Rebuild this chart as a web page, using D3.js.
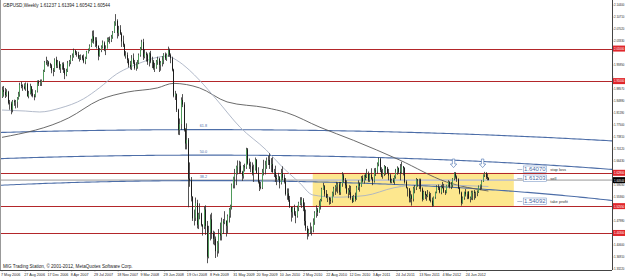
<!DOCTYPE html>
<html>
<head>
<meta charset="utf-8">
<script src="https://cdn.jsdelivr.net/npm/d3@7"></script>
<style>
body { margin: 0; background: #fff; }
svg { display: block; }
text { font-family: "Liberation Sans", Arial, sans-serif; }
</style>
</head>
<body>
<svg width="625" height="277"></svg>
<script>
// weekly GBPUSD candles [open, high, low, close], weeks start 7 May 2006
var candles2006 = [
  [1.862,1.893,1.858,1.883],[1.883,1.895,1.862,1.877],[1.877,1.889,1.858,1.867],[1.867,1.885,1.862,1.876],
  [1.876,1.880,1.838,1.843],[1.843,1.852,1.822,1.841],[1.841,1.847,1.808,1.822],[1.822,1.852,1.814,1.848],
  [1.848,1.853,1.834,1.845],[1.845,1.852,1.826,1.846],[1.846,1.861,1.828,1.857],[1.857,1.877,1.853,1.869],
  [1.869,1.905,1.862,1.898],[1.898,1.908,1.888,1.895],[1.895,1.900,1.880,1.893],[1.893,1.903,1.884,1.887],
  [1.887,1.906,1.880,1.901],[1.901,1.905,1.862,1.864],[1.864,1.880,1.857,1.872],[1.872,1.902,1.869,1.893],
  [1.893,1.895,1.863,1.872],[1.872,1.885,1.860,1.865],[1.865,1.870,1.851,1.862],[1.862,1.882,1.860,1.878],
  [1.878,1.912,1.875,1.908],[1.908,1.913,1.895,1.903],[1.903,1.915,1.895,1.906],[1.906,1.915,1.895,1.910],
  [1.910,1.945,1.908,1.941],[1.941,1.972,1.938,1.968],[1.968,1.985,1.960,1.966],[1.966,1.975,1.955,1.968],
  [1.968,1.972,1.955,1.962],[1.962,1.966,1.950,1.958],[1.958,1.962,1.934,1.944]
]
var candles2007 = [
  [1.944,1.950,1.925,1.942],[1.942,1.980,1.938,1.976],[1.976,1.985,1.950,1.958],[1.958,1.975,1.950,1.968],
  [1.968,1.972,1.945,1.950],[1.950,1.962,1.935,1.958],[1.958,1.967,1.945,1.962],[1.962,1.968,1.935,1.945],
  [1.945,1.950,1.916,1.930],[1.930,1.948,1.925,1.942],[1.942,1.972,1.938,1.965],[1.965,1.975,1.955,1.970],
  [1.970,1.990,1.962,1.982],[1.982,1.995,1.972,1.988],[1.988,2.010,1.982,2.004],[2.004,2.006,1.990,1.997],
  [1.997,2.002,1.985,1.992],[1.992,2.000,1.978,1.982],[1.982,1.990,1.970,1.985],[1.985,1.992,1.975,1.987],
  [1.987,1.990,1.974,1.980],[1.980,1.992,1.965,1.970],[1.970,1.985,1.962,1.982],[1.982,2.003,1.978,2.000],
  [2.000,2.010,1.995,2.006],[2.006,2.023,2.002,2.018],[2.018,2.040,2.015,2.032],[2.032,2.065,2.028,2.048],
  [2.048,2.066,2.025,2.033],[2.033,2.045,2.015,2.035],[2.035,2.045,2.010,2.018],[2.018,2.020,1.974,1.988],
  [1.988,2.012,1.985,2.005],[2.005,2.020,1.999,2.015],[2.015,2.035,2.010,2.028],[2.028,2.032,2.002,2.008],
  [2.008,2.020,1.990,2.012],[2.012,2.044,2.010,2.040],[2.040,2.045,2.030,2.040],[2.040,2.047,2.025,2.037],
  [2.037,2.052,2.030,2.045],[2.045,2.064,2.040,2.060],[2.060,2.094,2.058,2.090],[2.090,2.116,2.080,2.095],
  [2.095,2.100,2.041,2.058],[2.058,2.080,2.048,2.068],[2.068,2.082,2.052,2.056],[2.056,2.060,2.015,2.032],
  [2.032,2.050,2.015,2.022],[2.022,2.025,1.986,1.990],[1.990,2.002,1.979,1.990],[1.990,1.998,1.965,1.975]
]
var candles2008 = [
  [1.975,1.980,1.952,1.960],[1.960,1.972,1.946,1.954],[1.954,1.990,1.944,1.980],[1.980,1.995,1.962,1.967],
  [1.967,1.975,1.945,1.950],[1.950,1.968,1.942,1.955],[1.955,1.975,1.948,1.966],[1.966,1.995,1.962,1.990],
  [1.990,2.015,1.985,2.010],[2.010,2.037,2.005,2.030],[2.030,2.040,1.975,1.985],[1.985,2.008,1.980,1.995],
  [1.995,2.000,1.970,1.990],[1.990,1.995,1.960,1.970],[1.970,1.998,1.955,1.995],[1.995,2.003,1.965,1.970],
  [1.970,1.985,1.950,1.970],[1.970,1.975,1.945,1.950],[1.950,1.966,1.938,1.952],[1.952,1.975,1.948,1.970],
  [1.970,1.985,1.960,1.978],[1.978,1.982,1.938,1.960],[1.960,1.972,1.942,1.966],[1.966,1.987,1.955,1.975],
  [1.975,1.996,1.962,1.992],[1.992,1.998,1.975,1.980],[1.980,1.995,1.972,1.990],[1.990,2.016,1.985,2.005],
  [2.005,2.010,1.985,1.990],[1.990,1.995,1.965,1.980],[1.980,1.985,1.940,1.945],[1.945,1.948,1.860,1.865],
  [1.865,1.880,1.852,1.870],[1.870,1.872,1.815,1.822],[1.822,1.825,1.745,1.760],[1.760,1.795,1.744,1.778],
  [1.778,1.860,1.760,1.852],[1.852,1.870,1.830,1.838],[1.838,1.845,1.755,1.760],[1.760,1.765,1.700,1.718],
  [1.718,1.780,1.700,1.730],[1.730,1.735,1.522,1.610],[1.610,1.660,1.585,1.605],[1.605,1.615,1.540,1.555],
  [1.555,1.555,1.480,1.488],[1.488,1.515,1.466,1.490],[1.490,1.552,1.480,1.535],[1.535,1.545,1.457,1.468],
  [1.468,1.505,1.455,1.500],[1.500,1.534,1.485,1.503],[1.503,1.505,1.463,1.468],[1.468,1.470,1.435,1.462]
]
var candles2009 = [
  [1.462,1.525,1.455,1.515],[1.515,1.528,1.437,1.465],[1.465,1.480,1.350,1.370],[1.370,1.465,1.365,1.445],
  [1.445,1.500,1.420,1.485],[1.485,1.505,1.425,1.442],[1.442,1.450,1.408,1.425],[1.425,1.447,1.405,1.425],
  [1.425,1.432,1.366,1.387],[1.387,1.418,1.370,1.412],[1.412,1.455,1.380,1.440],[1.440,1.475,1.420,1.435],
  [1.435,1.490,1.420,1.478],[1.478,1.486,1.440,1.475],[1.475,1.510,1.470,1.480],[1.480,1.482,1.432,1.465],
  [1.465,1.500,1.442,1.495],[1.495,1.520,1.475,1.515],[1.515,1.530,1.490,1.525],[1.525,1.595,1.515,1.590],
  [1.590,1.616,1.580,1.615],[1.615,1.640,1.580,1.625],[1.625,1.650,1.590,1.647],[1.647,1.666,1.623,1.650],
  [1.650,1.665,1.625,1.650],[1.650,1.662,1.625,1.630],[1.630,1.634,1.603,1.619],[1.619,1.652,1.610,1.648],
  [1.648,1.656,1.632,1.645],[1.645,1.705,1.640,1.700],[1.700,1.704,1.653,1.657],[1.657,1.672,1.640,1.650],
  [1.650,1.662,1.630,1.648],[1.648,1.660,1.620,1.628],[1.628,1.653,1.600,1.637],[1.637,1.675,1.635,1.668],
  [1.668,1.670,1.625,1.628],[1.628,1.645,1.595,1.600],[1.600,1.605,1.572,1.585],[1.585,1.600,1.577,1.582],
  [1.582,1.640,1.578,1.630],[1.630,1.668,1.620,1.640],[1.640,1.665,1.623,1.652],[1.652,1.675,1.640,1.668],
  [1.668,1.680,1.652,1.667],[1.667,1.688,1.640,1.652],[1.652,1.673,1.630,1.655],[1.655,1.676,1.628,1.630],
  [1.630,1.640,1.615,1.630],[1.630,1.650,1.600,1.612],[1.612,1.622,1.590,1.608],[1.608,1.628,1.605,1.615]
]
var candles2010 = [
  [1.615,1.618,1.580,1.597],[1.597,1.640,1.592,1.627],[1.627,1.648,1.605,1.613],[1.613,1.623,1.595,1.600],
  [1.600,1.612,1.558,1.563],[1.563,1.580,1.545,1.565],[1.565,1.580,1.539,1.545],[1.545,1.557,1.520,1.523],
  [1.523,1.523,1.478,1.507],[1.507,1.523,1.490,1.520],[1.520,1.530,1.496,1.500],[1.500,1.510,1.473,1.495],
  [1.495,1.527,1.490,1.520],[1.520,1.539,1.510,1.535],[1.535,1.553,1.528,1.535],[1.535,1.553,1.520,1.545],
  [1.545,1.550,1.510,1.522],[1.522,1.537,1.466,1.480],[1.480,1.515,1.450,1.458],[1.458,1.465,1.423,1.442],
  [1.442,1.456,1.432,1.450],[1.450,1.475,1.440,1.450],[1.450,1.463,1.435,1.452],[1.452,1.488,1.445,1.478],
  [1.478,1.510,1.468,1.505],[1.505,1.528,1.490,1.515],[1.515,1.520,1.495,1.507],[1.507,1.543,1.505,1.527],
  [1.527,1.548,1.515,1.545],[1.545,1.582,1.540,1.578],[1.578,1.597,1.576,1.587],[1.587,1.590,1.555,1.564],
  [1.564,1.575,1.550,1.552],[1.552,1.563,1.538,1.552],[1.552,1.553,1.530,1.545],[1.545,1.552,1.532,1.542],
  [1.542,1.570,1.536,1.567],[1.567,1.585,1.555,1.580],[1.580,1.590,1.560,1.585],[1.585,1.600,1.570,1.592],
  [1.592,1.598,1.565,1.592],[1.592,1.600,1.560,1.568],[1.568,1.600,1.560,1.595],[1.595,1.630,1.585,1.620],
  [1.620,1.625,1.598,1.606],[1.606,1.612,1.580,1.590],[1.590,1.605,1.563,1.567],[1.567,1.581,1.550,1.575],
  [1.575,1.590,1.560,1.568],[1.568,1.588,1.545,1.550],[1.550,1.557,1.535,1.540],[1.540,1.560,1.538,1.556]
]
var candles2011 = [
  [1.556,1.567,1.540,1.548],[1.548,1.588,1.545,1.583],[1.583,1.605,1.575,1.595],[1.595,1.598,1.570,1.588],
  [1.588,1.618,1.585,1.612],[1.612,1.620,1.598,1.602],[1.602,1.622,1.595,1.620],[1.620,1.627,1.605,1.615],
  [1.615,1.640,1.612,1.625],[1.625,1.632,1.600,1.605],[1.605,1.625,1.600,1.622],[1.622,1.642,1.607,1.610],
  [1.610,1.615,1.590,1.602],[1.602,1.642,1.598,1.635],[1.635,1.643,1.618,1.632],[1.632,1.660,1.625,1.655],
  [1.655,1.675,1.648,1.670],[1.670,1.674,1.630,1.636],[1.636,1.645,1.615,1.620],[1.620,1.640,1.610,1.625],
  [1.625,1.652,1.618,1.648],[1.648,1.648,1.622,1.641],[1.641,1.646,1.625,1.628],[1.628,1.640,1.605,1.620],
  [1.620,1.625,1.596,1.600],[1.600,1.610,1.596,1.605],[1.605,1.612,1.597,1.600],[1.600,1.620,1.592,1.615],
  [1.615,1.640,1.610,1.630],[1.630,1.648,1.622,1.643],[1.643,1.644,1.625,1.631],[1.631,1.655,1.605,1.628],
  [1.628,1.662,1.625,1.648],[1.648,1.648,1.620,1.643],[1.643,1.645,1.595,1.600],[1.600,1.605,1.580,1.582],
  [1.582,1.583,1.555,1.580],[1.580,1.580,1.537,1.550],[1.550,1.573,1.537,1.558],[1.558,1.562,1.527,1.548],
  [1.548,1.585,1.540,1.580],[1.580,1.590,1.565,1.584],[1.584,1.612,1.575,1.608],[1.608,1.608,1.585,1.605],
  [1.605,1.610,1.578,1.607],[1.607,1.610,1.570,1.579],[1.579,1.583,1.540,1.547],[1.547,1.573,1.545,1.569],
  [1.569,1.572,1.547,1.560],[1.560,1.563,1.542,1.557],[1.557,1.575,1.553,1.562],[1.562,1.570,1.542,1.545]
]
var candles2012 = [
  [1.545,1.566,1.537,1.542],[1.542,1.552,1.523,1.528],[1.528,1.555,1.525,1.553],[1.553,1.570,1.548,1.568],
  [1.568,1.590,1.565,1.585],[1.585,1.592,1.575,1.582],[1.582,1.585,1.565,1.568],[1.568,1.590,1.562,1.585],
  [1.585,1.600,1.580,1.582],[1.582,1.594,1.566,1.570],[1.570,1.575,1.560,1.567],[1.567,1.591,1.565,1.590],
  [1.590,1.605,1.585,1.600],[1.600,1.602,1.580,1.585],[1.585,1.600,1.578,1.590],[1.590,1.612,1.583,1.610],
  [1.610,1.630,1.605,1.626],[1.626,1.630,1.610,1.616],[1.616,1.620,1.600,1.608],[1.608,1.611,1.578,1.581],
  [1.581,1.585,1.562,1.567],[1.567,1.570,1.527,1.535],[1.535,1.555,1.533,1.552],[1.552,1.570,1.545,1.569],
  [1.569,1.578,1.555,1.562],[1.562,1.570,1.547,1.569],[1.569,1.572,1.547,1.550],[1.550,1.555,1.537,1.550],
  [1.550,1.573,1.545,1.567],[1.567,1.573,1.544,1.570],[1.570,1.575,1.545,1.566],[1.566,1.570,1.550,1.567],
  [1.567,1.574,1.556,1.569],[1.569,1.589,1.566,1.586],[1.586,1.592,1.575,1.590],[1.590,1.605,1.577,1.602],
  [1.602,1.623,1.600,1.622],[1.622,1.631,1.615,1.626],[1.626,1.630,1.609,1.615],[1.615,1.625,1.605,1.612],
  [1.61237,1.61394,1.60542,1.60544]
]

// moving averages: [week index, price]
var maSlow100 = [[0,1.821],[16,1.818],[26,1.815],[40,1.827],[56,1.855],[67,1.889],[79,1.932],[88,1.953],
  [97,1.969],[105,1.981],[114,1.987],[120,1.975],[129,1.944],[136,1.913],[148,1.852],[164,1.768],
  [182,1.698],[193,1.646],[205,1.597],[214,1.560],[230,1.553],[250,1.558],[270,1.582],[290,1.592],
  [310,1.590],[335,1.586]]
var maSlow200 = [[0,1.737],[46,1.797],[67,1.852],[86,1.876],[107,1.889],[118,1.903],[136,1.889],
  [155,1.846],[182,1.828],[196,1.813],[219,1.768],[242,1.728],[274,1.667],[306,1.600],[335,1.572]]

// horizontal levels
var redLevels = [2.0100, 1.9100, 1.6280, 1.5255, 1.4430]
var bidPrice = 1.60544
var fibLevels = ["38.2", "50.0", "61.8"]
var fibCenter = [141, 1.3503]       // week, price of the Jan 2009 low
var fibRadius = [1122, 0.6642]      // weeks, price at 100%
var boxWeeks = [214, 352.5]
var boxPrices = [1.5255, 1.6280]
var tradeLabels = [["1.64070", 1.64070, "stop loss"], ["1.61203", 1.61203, "sell"], ["1.54092", 1.54092, "take profit"]]
var arrowWeeks = [311, 331]
var arrowPrice = 1.655

var dateTicks = ["7 May 2006","27 Aug 2006","17 Dec 2006","8 Apr 2007","29 Jul 2007","18 Nov 2007","9 Mar 2008",
  "29 Jun 2008","19 Oct 2008","8 Feb 2009","31 May 2009","20 Sep 2009","10 Jan 2010","2 May 2010",
  "22 Aug 2010","12 Dec 2010","3 Apr 2011","24 Jul 2011","13 Nov 2011","4 Mar 2012","24 Jun 2012"]
var priceTicks = ["2.14400","2.10710","2.07020","2.03330","1.99640","1.95950","1.92260","1.88570","1.84880",
  "1.81190","1.77500","1.73810","1.70120","1.66430","1.62740","1.59050","1.55360","1.51670","1.47980",
  "1.44290","1.40600","1.36910","1.33220"]

var candles = candles2006.concat(candles2007, candles2008, candles2009, candles2010, candles2011, candles2012)
var startDate = new Date(2006, 4, 7)
var parseTick = d3.timeParse("%e %b %Y")

var svg = d3.select("svg"),
    width = +svg.attr("width"),
    height = +svg.attr("height");

var plotRight = 612, plotBottom = 270

var x = d3.scaleLinear().domain([0, 335]).range([2, 2 + 1.452 * 335])
var xDate = d3.scaleTime().domain([startDate, d3.timeWeek.offset(startDate, 335)]).range(x.range())
var y = d3.scaleLinear().domain([1.3322, 2.1440]).range([269, 5])

svg.append("rect").attr("width", width).attr("height", height).attr("fill", "#fff")

var defs = svg.append("defs")
defs.append("clipPath").attr("id", "plot")
  .append("rect").attr("x", 1).attr("y", 1).attr("width", plotRight - 1).attr("height", plotBottom - 1)

var plot = svg.append("g").attr("clip-path", "url(#plot)")

// yellow zone
plot.append("rect")
  .attr("x", x(boxWeeks[0])).attr("width", x(boxWeeks[1]) - x(boxWeeks[0]))
  .attr("y", y(boxPrices[1])).attr("height", y(boxPrices[0]) - y(boxPrices[1]))
  .attr("fill", "#fde78e")

// bid line
plot.append("line")
  .attr("x1", 0).attr("x2", plotRight).attr("y1", y(bidPrice)).attr("y2", y(bidPrice))
  .style("stroke", "#c4c4c4").style("stroke-width", 1.6)

// red levels
plot.append("g").selectAll("line").data(redLevels).enter().append("line")
  .attr("x1", 0).attr("x2", plotRight)
  .attr("y1", d => Math.round(y(d)) + 0.5).attr("y2", d => Math.round(y(d)) + 0.5)
  .style("stroke", "#b3262a").style("stroke-width", 1)

// fibonacci arcs
var arcLine = d3.line().x(d => x(d[0])).y(d => y(d[1]))
plot.append("g").selectAll("path").data(fibLevels).enter().append("path")
  .attr("d", lv => {
    var k = +lv / 100
    var rx = fibRadius[0] * k, ry = fibRadius[1] * k
    var pts = d3.range(-10, 430, 2).map(w => {
      var t = (w - fibCenter[0]) / rx
      return [w, fibCenter[1] + ry * Math.sqrt(Math.max(0, 1 - t * t))]
    })
    return arcLine(pts)
  })
  .attr("fill", "none").style("stroke", "#4d6ea8").style("stroke-width", 1.1)

plot.append("g").selectAll("text").data(fibLevels).enter().append("text")
  .attr("x", x(fibCenter[0]) - 7)
  .attr("y", lv => y(fibCenter[1] + fibRadius[1] * lv / 100) - 2.5)
  .attr("font-size", 3.8).attr("fill", "#4d6ea8")
  .text(d => d)

// moving averages
var maLine = d3.line().x(d => x(d[0])).y(d => y(d[1])).curve(d3.curveMonotoneX)
plot.append("path").datum(maSlow200).attr("d", maLine)
  .attr("fill", "none").style("stroke", "#5a5a5a").style("stroke-width", 0.9)
plot.append("path").datum(maSlow100).attr("d", maLine)
  .attr("fill", "none").style("stroke", "#a9b2c4").style("stroke-width", 0.9)

// candles
var cg = plot.append("g")
cg.selectAll("line").data(candles).enter().append("line")
  .attr("x1", (d, i) => Math.round(x(i)) + 0.5).attr("x2", (d, i) => Math.round(x(i)) + 0.5)
  .attr("y1", d => y(d[1])).attr("y2", d => y(d[2]))
  .style("stroke", "#2b2b2b").style("stroke-width", 0.8)
cg.selectAll("rect").data(candles).enter().append("rect")
  .attr("x", (d, i) => Math.round(x(i)))
  .attr("width", 1)
  .attr("y", d => y(Math.max(d[0], d[3])))
  .attr("height", d => Math.max(0.6, Math.abs(y(d[0]) - y(d[3]))))
  .attr("fill", d => d[3] >= d[0] ? "#4f9a5a" : "#1d1d1d")

// down arrows
plot.append("g").selectAll("path").data(arrowWeeks).enter().append("path")
  .attr("transform", w => "translate(" + x(w) + "," + y(arrowPrice) + ")")
  .attr("d", "M-1.2,-5 L1.2,-5 L1.2,0 L3.2,0 L0,3.6 L-3.2,0 L-1.2,0 Z")
  .attr("fill", "#fff").style("stroke", "#5b7fb8").style("stroke-width", 0.7)

// trade labels
var tl = plot.append("g").selectAll("g").data(tradeLabels).enter().append("g")
  .attr("transform", d => "translate(" + x(359) + "," + Math.round(y(d[1])) + ")")
tl.append("line").attr("x1", -6).attr("x2", -1).attr("y1", 0.5).attr("y2", 0.5)
  .style("stroke", "#7d8fb0").style("stroke-width", 0.6)
tl.append("rect").attr("x", 0).attr("y", -3).attr("width", 23).attr("height", 6.5)
  .attr("fill", "#fff").style("stroke", "#7f9bc9").style("stroke-width", 0.6)
tl.append("text").attr("x", 11.5).attr("y", 2.2).attr("text-anchor", "middle")
  .attr("font-size", 6).attr("fill", "#4a6aa5").text(d => d[0])
tl.append("text").attr("x", 27).attr("y", 1.6).attr("font-size", 4).attr("fill", "#333").text(d => d[2])

// frame and axes
svg.append("line").attr("x1", plotRight + 0.5).attr("x2", plotRight + 0.5).attr("y1", 0).attr("y2", plotBottom)
  .style("stroke", "#444").style("stroke-width", 1)
svg.append("line").attr("x1", 0).attr("x2", plotRight).attr("y1", plotBottom + 0.5).attr("y2", plotBottom + 0.5)
  .style("stroke", "#444").style("stroke-width", 1)
svg.append("line").attr("x1", 0.5).attr("x2", 0.5).attr("y1", 0).attr("y2", plotBottom)
  .style("stroke", "#999").style("stroke-width", 1)

// axis labels are squeezed horizontally so they fit in the 12px margin
var squeeze = (tx, ty) => "translate(" + tx + "," + ty + ") scale(0.76,1)"

// the price tags sit on top of the axis, ticks under them are not drawn
var tagPrices = redLevels.concat([bidPrice])
var freeTicks = priceTicks.filter(t => tagPrices.every(p => Math.abs(y(+t) - y(p)) > 4.5))

var pAxis = svg.append("g")
pAxis.selectAll("text").data(freeTicks).enter().append("text")
  .attr("transform", d => squeeze(plotRight + 2, y(+d) + 1.4))
  .attr("font-size", 3.8).attr("fill", "#222").text(d => d)
pAxis.selectAll("line").data(priceTicks).enter().append("line")
  .attr("x1", plotRight).attr("x2", plotRight + 1.5).attr("y1", d => y(+d)).attr("y2", d => y(+d))
  .style("stroke", "#444").style("stroke-width", 0.5)

// red price tags on the axis
var tags = svg.append("g").selectAll("g").data(redLevels).enter().append("g")
  .attr("transform", d => "translate(" + (plotRight + 1) + "," + y(d) + ")")
tags.append("rect").attr("x", 0).attr("y", -3).attr("width", 13).attr("height", 6).attr("fill", "#e0262b")
tags.append("text").attr("transform", squeeze(1, 1.4)).attr("font-size", 3.8).attr("fill", "#fff")
  .text(d => d.toFixed(5))

var bidTag = svg.append("g").attr("transform", "translate(" + (plotRight + 1) + "," + y(bidPrice) + ")")
bidTag.append("rect").attr("x", 0).attr("y", -3).attr("width", 13).attr("height", 6).attr("fill", "#000")
bidTag.append("text").attr("transform", squeeze(1, 1.4)).attr("font-size", 3.8)
  .attr("fill", "#fff").text(bidPrice.toFixed(5))

// date axis
var dAxis = svg.append("g")
dAxis.selectAll("text").data(dateTicks).enter().append("text")
  .attr("x", d => xDate(parseTick(d)) - 1).attr("y", 275.5)
  .attr("font-size", 3.7).attr("fill", "#222").text(d => d)
dAxis.selectAll("line").data(dateTicks).enter().append("line")
  .attr("x1", d => xDate(parseTick(d))).attr("x2", d => xDate(parseTick(d)))
  .attr("y1", plotBottom).attr("y2", plotBottom + 1.5)
  .style("stroke", "#444").style("stroke-width", 0.5)

// titles
svg.append("text").attr("x", 3).attr("y", 7).attr("font-size", 4.6).attr("fill", "#222")
  .text("GBPUSD,Weekly  1.61237 1.61394 1.60542 1.60544")
svg.append("text").attr("x", 3).attr("y", 268).attr("font-size", 4.6).attr("fill", "#222")
  .text("MIG Trading Station, \u00a9 2001-2012, MetaQuotes Software Corp.")
</script>
</body>
</html>
